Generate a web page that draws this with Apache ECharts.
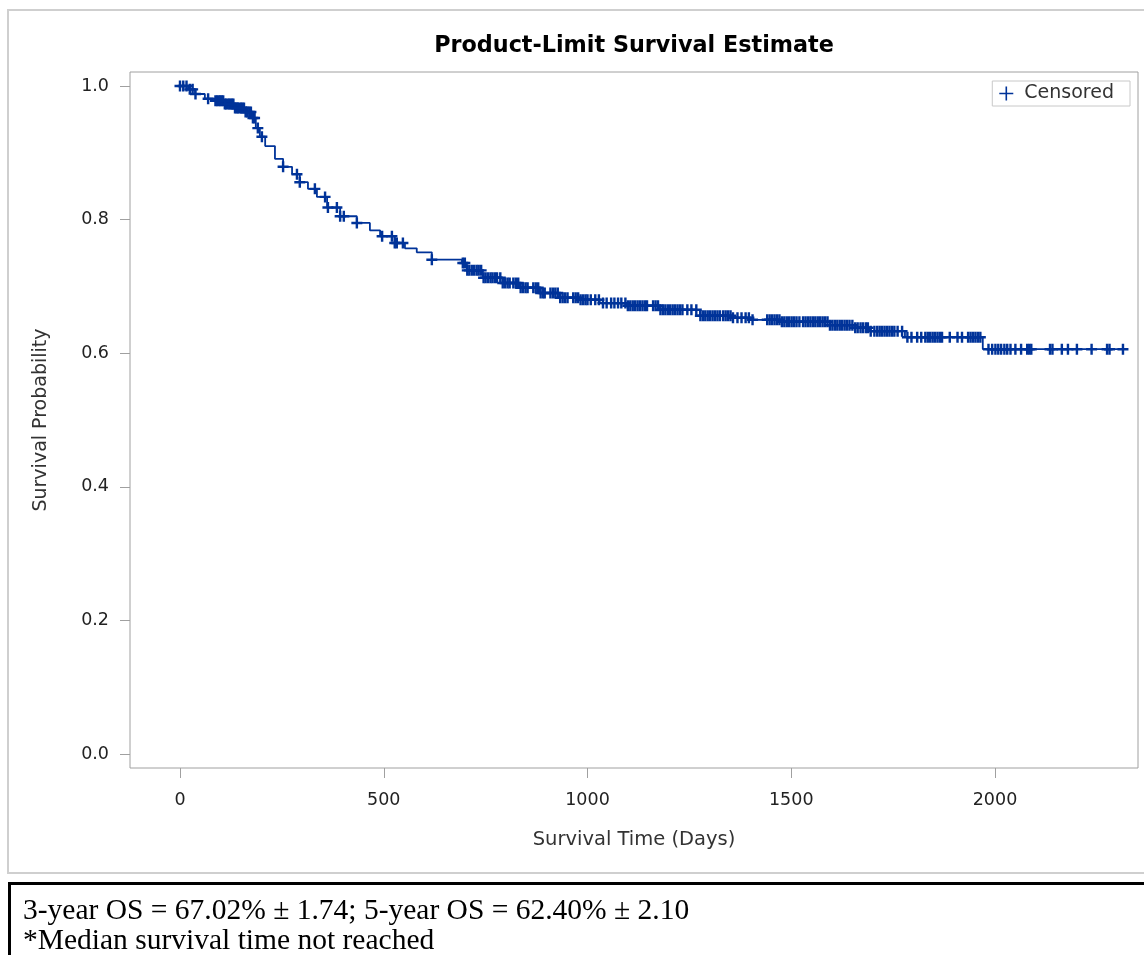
<!DOCTYPE html>
<html>
<head>
<meta charset="utf-8">
<script src="https://cdn.jsdelivr.net/npm/echarts@6/dist/echarts.min.js"></script>
<style>
    html, body { margin: 0; padding: 0; background: #fff; }
    #chart-km { width: 1144px; height: 955px; }
</style>
</head>
<body>
<div id="chart-km"></div>
<script>
//event times (days) and survival after each event
var eventDays = [0, 20, 37, 61, 86, 110, 135, 159, 177, 186, 196, 209, 233, 253, 275, 294, 314, 336, 361, 393,
    434, 466, 491, 527, 552, 581, 618, 692, 704, 743, 792, 834, 883, 932, 981, 1030, 1097, 1178, 1276, 1357,
    1398, 1472, 1595, 1656, 1693, 1779, 1970, 2326];
var eventSurv = [1.0, 0.995, 0.988, 0.981, 0.978, 0.973, 0.967, 0.961, 0.952, 0.937, 0.924, 0.910, 0.891, 0.879, 0.868, 0.856, 0.846, 0.834, 0.818, 0.805,
    0.795, 0.784, 0.775, 0.765, 0.757, 0.751, 0.740, 0.735, 0.724, 0.713, 0.705, 0.698, 0.690, 0.683, 0.680, 0.675, 0.671, 0.665, 0.656, 0.653,
    0.650, 0.647, 0.642, 0.638, 0.633, 0.624, 0.606, 0.606];

//censored times (days)
var censorDays = [0, 8, 16, 24, 31, 38, 69,
    87, 91, 95, 99, 102, 106, 110, 113, 117, 121, 124, 128, 131, 135, 139, 142, 146, 150, 153, 157, 161, 165, 170, 174, 179, 183,
    191, 201, 253, 287, 294, 331, 356, 363, 385, 393, 402, 434, 496, 520, 527, 532, 547, 618,
    694, 699, 705, 710, 716, 722, 728, 733, 739, 745, 750, 756, 762, 767, 773, 778,
    786, 792, 798, 804, 809, 818, 824, 830, 836, 842, 848, 853, 867, 873, 879, 885, 891, 895,
    909, 915, 921, 927, 933, 939, 945, 951, 965, 971, 977, 983, 989, 995, 1000,
    1008, 1019, 1028, 1038, 1047, 1058, 1066, 1075, 1083,
    1093, 1099, 1105, 1111, 1117, 1123, 1129, 1135, 1141, 1146,
    1161, 1167, 1173, 1179, 1185, 1191, 1197, 1203, 1209, 1215, 1221, 1227, 1233, 1245, 1255, 1267,
    1277, 1283, 1289, 1295, 1301, 1307, 1313, 1319, 1325, 1333, 1339, 1345, 1351, 1357,
    1368, 1378, 1388, 1396, 1405,
    1441, 1447, 1453, 1459, 1465, 1471, 1477, 1483, 1489, 1495, 1501, 1507, 1513, 1520,
    1529, 1535, 1541, 1547, 1553, 1559, 1565, 1571, 1577, 1583, 1589, 1595,
    1601, 1607, 1613, 1619, 1625, 1631, 1637, 1643, 1650, 1657, 1663, 1670, 1676, 1683, 1688,
    1695, 1704, 1711, 1717, 1723, 1729, 1735, 1741, 1747, 1753, 1761, 1772,
    1785, 1795, 1809, 1819, 1829, 1835, 1841, 1847, 1853, 1859, 1865, 1870,
    1889, 1908, 1919, 1934, 1940, 1946, 1952, 1958, 1964,
    1984, 1993, 2001, 2008, 2015, 2023, 2030, 2038, 2050, 2064, 2079, 2084, 2089,
    2135, 2141, 2164, 2179, 2201, 2237, 2275, 2281, 2314];

var xTicks = [0, 500, 1000, 1500, 2000];
var yTicks = [0, 0.2, 0.4, 0.6, 0.8, 1.0];

var blue = '#003399';
var axisGray = '#a0a0a0';
var crossPath = 'path://M0,3.9L10,3.9L10,6.1L0,6.1Z M3.9,0L6.1,0L6.1,10L3.9,10Z';

//survival value of the step curve at day t
function survAt(t) {
    var s = eventSurv[0];
    for (var i = 0; i < eventDays.length; i++) {
        if (eventDays[i] <= t) s = eventSurv[i];
    }
    return s;
}

var curveData = eventDays.map(function (d, i) { return [d, eventSurv[i]]; });
var censorData = censorDays.map(function (d) { return [d, survAt(d)]; });

let km_chart = echarts.init(document.getElementById('chart-km'));

var km_option = {
    animation: false,
    backgroundColor: '#fff',
    grid: {
        left: 130,
        right: 6,
        top: 72,
        bottom: 187,
        show: true,
        borderColor: axisGray,
        borderWidth: 1
    },
    legend: {
        data: ['Censored'],
        right: 14,
        top: 81,
        padding: [3, 16, 3, 7],
        borderColor: '#c8c8c8',
        borderWidth: 1,
        itemWidth: 14,
        itemHeight: 14,
        icon: 'path://M0,6.2L14,6.2L14,7.8L0,7.8Z M6.2,0L7.8,0L7.8,14L6.2,14Z',
        formatter: ' {name}',
        textStyle: { fontFamily: 'DejaVu Sans', fontSize: 19, color: '#333' }
    },
    xAxis: {
        type: 'value',
        min: -122.7,
        max: 2350.9,
        name: 'Survival Time (Days)',
        nameLocation: 'middle',
        nameGap: 62,
        nameTextStyle: { fontFamily: 'DejaVu Sans', fontSize: 19.5, color: '#333' },
        axisLine: { show: false, onZero: false },
        splitLine: { show: false },
        axisTick: { show: true, inside: false, length: 10, customValues: xTicks, lineStyle: { color: axisGray } },
        axisLabel: {
            customValues: xTicks,
            margin: 23,
            fontFamily: 'DejaVu Sans',
            fontSize: 17.5,
            color: '#222',
            formatter: function (v) { return String(v); }
        }
    },
    yAxis: {
        type: 'value',
        min: -0.02096,
        max: 1.02096,
        name: 'Survival Probability',
        nameLocation: 'middle',
        nameGap: 79,
        nameTextStyle: { fontFamily: 'DejaVu Sans', fontSize: 19, color: '#333' },
        axisLine: { show: false, onZero: false },
        splitLine: { show: false },
        axisTick: { show: true, inside: false, length: 10, customValues: yTicks, lineStyle: { color: axisGray } },
        axisLabel: {
            customValues: yTicks,
            margin: 21,
            fontFamily: 'DejaVu Sans',
            fontSize: 17.5,
            color: '#222',
            formatter: function (v) { return v.toFixed(1); }
        }
    },
    series: [
        {
            name: 'Survival',
            type: 'line',
            step: 'end',
            showSymbol: false,
            symbol: 'none',
            lineStyle: { color: blue, width: 1.8 },
            data: curveData
        },
        {
            name: 'Censored',
            type: 'scatter',
            symbol: crossPath,
            symbolSize: 11,
            itemStyle: { color: blue, opacity: 1 },
            data: censorData
        }
    ],
    graphic: [
        //outer frame of the figure
        {
            type: 'rect',
            silent: true,
            shape: { x: 8, y: 10, width: 1150, height: 863 },
            style: { fill: 'none', stroke: '#cfcfcf', lineWidth: 2 }
        },
        {
            type: 'text',
            x: 634,
            y: 46,
            style: {
                text: 'Product-Limit Survival Estimate',
                font: 'bold 22.3px "DejaVu Sans"',
                fill: '#000',
                align: 'center',
                verticalAlign: 'middle'
            }
        },
        //footnote box
        {
            type: 'rect',
            silent: true,
            shape: { x: 9.5, y: 883.5, width: 1150, height: 100 },
            style: { fill: 'none', stroke: '#000', lineWidth: 3 }
        },
        {
            type: 'text',
            x: 23,
            y: 911,
            style: {
                text: '3-year OS = 67.02% \u00b1 1.74; 5-year OS = 62.40% \u00b1 2.10',
                font: '29.5px "Liberation Serif"',
                fill: '#000',
                verticalAlign: 'middle'
            }
        },
        {
            type: 'text',
            x: 23,
            y: 941,
            style: {
                text: '*Median survival time not reached',
                font: '29.5px "Liberation Serif"',
                fill: '#000',
                verticalAlign: 'middle'
            }
        }
    ]
};

km_chart.setOption(km_option);
</script>
</body>
</html>
